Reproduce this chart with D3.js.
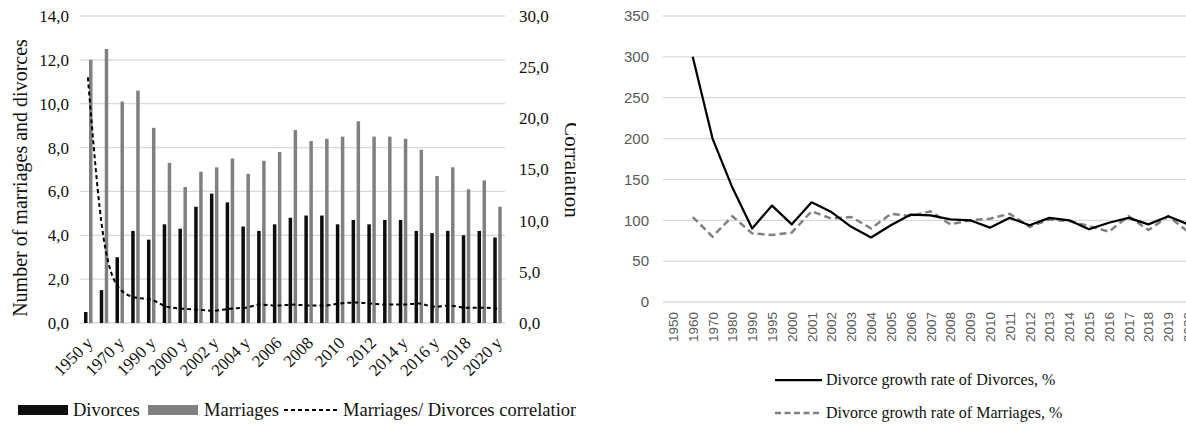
<!DOCTYPE html>
<html>
<head>
<meta charset="utf-8">
<script src="https://cdnjs.cloudflare.com/ajax/libs/d3/7.8.5/d3.min.js"></script>
<style>
  body { margin: 0; background: #fff; }
  svg { display: block; }
</style>
</head>
<body>
<svg class="chart" width="1186" height="425"></svg>
<script>
// categories (left chart labels carry the "y" suffix as in the source)
var yearLabels = ['1950 y', '1960 y', '1970 y', '1980 y', '1990 y', '1995 y', '2000 y', '2001 y',
    '2002 y', '2003 y', '2004 y', '2005', '2006', '2007', '2008', '2009', '2010', '2011', '2012',
    '2013', '2014 y', '2015 y', '2016 y', '2017', '2018', '2019', '2020 y'];
var years = ['1950', '1960', '1970', '1980', '1990', '1995', '2000', '2001', '2002', '2003', '2004',
    '2005', '2006', '2007', '2008', '2009', '2010', '2011', '2012', '2013', '2014', '2015', '2016',
    '2017', '2018', '2019', '2020'];

// left chart series
var divorces = [0.5, 1.5, 3.0, 4.2, 3.8, 4.5, 4.3, 5.3, 5.9, 5.5, 4.4, 4.2, 4.5, 4.8, 4.9, 4.9,
    4.5, 4.7, 4.5, 4.7, 4.7, 4.2, 4.1, 4.2, 4.0, 4.2, 3.9];
var marriages = [12.0, 12.5, 10.1, 10.6, 8.9, 7.3, 6.2, 6.9, 7.1, 7.5, 6.8, 7.4, 7.8, 8.8, 8.3, 8.4,
    8.5, 9.2, 8.5, 8.5, 8.4, 7.9, 6.7, 7.1, 6.1, 6.5, 5.3];
var correlation = [24.0, 8.3, 3.4, 2.5, 2.3, 1.6, 1.4, 1.3, 1.2, 1.4, 1.5, 1.8, 1.7, 1.8, 1.7, 1.7,
    1.9, 2.0, 1.9, 1.8, 1.8, 1.9, 1.6, 1.7, 1.5, 1.5, 1.4];

// right chart series
var divorceGrowth = [null, 300, 200, 140, 90, 118, 95, 122, 110, 92, 79, 94, 107, 106, 101, 100,
    91, 103, 94, 103, 100, 89, 97, 103, 95, 105, 95];
var marriageGrowth = [null, 104, 80, 105, 84, 82, 85, 111, 102, 104, 90, 108, 105, 111, 95, 100,
    102, 108, 92, 101, 99, 93, 86, 105, 88, 105, 86];

// tick labels
var leftTicks = [0, 2, 4, 6, 8, 10, 12, 14];
var rightTicks = [0, 5, 10, 15, 20, 25, 30];
var growthTicks = [0, 50, 100, 150, 200, 250, 300, 350];

var serif = '"Liberation Serif", "Times New Roman", serif';
var sans = '"Liberation Sans", Arial, sans-serif';
var gridColor = '#d9d9d9';
var comma = function (v) { return d3.format('.1f')(v).replace('.', ','); };

var svg = d3.select('.chart');

// ---------------- left chart ----------------
// the source picture is cut off a little right of the secondary axis title
svg.append('defs').append('clipPath').attr('id', 'leftClip')
    .append('rect').attr('x', 0).attr('y', 0).attr('width', 576).attr('height', 425);

var left = svg.append('g').attr('clip-path', 'url(#leftClip)');

var lp = { left: 80, right: 505, top: 16, bottom: 323 };

var x = d3.scaleBand().domain(yearLabels).range([lp.left, lp.right]);
var bw = x.bandwidth();
var xSub = d3.scaleBand().domain(['Divorces', 'Marriages'])
    .range([bw * 0.254, bw * 0.794]).paddingInner(0.3);
var y0 = d3.scaleLinear().domain([0, 14]).range([lp.bottom, lp.top]);
var y1 = d3.scaleLinear().domain([0, 30]).range([lp.bottom, lp.top]);

left.append('g').selectAll('line').data(leftTicks).enter().append('line')
    .attr('x1', lp.left).attr('x2', lp.right)
    .attr('y1', function (d) { return y0(d); }).attr('y2', function (d) { return y0(d); })
    .attr('stroke', gridColor).attr('stroke-width', 1.3);

left.append('g').selectAll('text').data(leftTicks).enter().append('text')
    .attr('x', 69).attr('y', function (d) { return y0(d); }).attr('dy', '0.35em')
    .attr('text-anchor', 'end').style('font-family', serif).style('font-size', '17px')
    .attr('fill', '#111').text(comma);

left.append('g').selectAll('text').data(rightTicks).enter().append('text')
    .attr('x', 519).attr('y', function (d) { return y1(d); }).attr('dy', '0.35em')
    .attr('text-anchor', 'start').style('font-family', serif).style('font-size', '17px')
    .attr('fill', '#111').text(comma);

var groups = left.append('g').selectAll('g').data(yearLabels).enter().append('g')
    .attr('transform', function (d) { return 'translate(' + x(d) + ',0)'; });

groups.append('rect')
    .attr('x', xSub('Divorces')).attr('width', xSub.bandwidth())
    .attr('y', function (d, i) { return y0(divorces[i]); })
    .attr('height', function (d, i) { return y0(0) - y0(divorces[i]); })
    .attr('fill', '#0d0d0d');

groups.append('rect')
    .attr('x', xSub('Marriages')).attr('width', xSub.bandwidth())
    .attr('y', function (d, i) { return y0(marriages[i]); })
    .attr('height', function (d, i) { return y0(0) - y0(marriages[i]); })
    .attr('fill', '#808080');

var corrLine = d3.line()
    .x(function (d, i) { return x(yearLabels[i]) + bw / 2; })
    .y(function (d) { return y1(d); })
    .curve(d3.curveMonotoneX);

left.append('path').datum(correlation).attr('d', corrLine)
    .attr('fill', 'none').attr('stroke', '#000').attr('stroke-width', 2)
    .attr('stroke-dasharray', '4,3');

left.append('g').selectAll('text')
    .data(yearLabels.filter(function (d, i) { return i % 2 === 0; }))
    .enter().append('text')
    .attr('transform', function (d) {
        return 'translate(' + (x(d) + bw / 2 + 6) + ',' + 344 + ') rotate(-45)';
    })
    .attr('text-anchor', 'end').style('font-family', serif).style('font-size', '17px')
    .attr('fill', '#111').text(function (d) { return d; });

left.append('text')
    .attr('transform', 'translate(27,178) rotate(-90)')
    .attr('text-anchor', 'middle').style('font-family', serif).style('font-size', '20px')
    .attr('fill', '#111').text('Number of marriages and divorces');

left.append('text')
    .attr('transform', 'translate(565,170) rotate(90)')
    .attr('text-anchor', 'middle').style('font-family', serif).style('font-size', '21px')
    .attr('fill', '#111').text('Corralation');

// left legend
var lg = left.append('g');
lg.append('rect').attr('x', 18).attr('y', 405).attr('width', 50).attr('height', 10).attr('fill', '#0d0d0d');
lg.append('text').attr('x', 73).attr('y', 416).style('font-family', serif).style('font-size', '18.5px')
    .attr('fill', '#111').text('Divorces');
lg.append('rect').attr('x', 148).attr('y', 405).attr('width', 50).attr('height', 10).attr('fill', '#808080');
lg.append('text').attr('x', 204).attr('y', 416).style('font-family', serif).style('font-size', '18.5px')
    .attr('fill', '#111').text('Marriages');
lg.append('line').attr('x1', 284).attr('x2', 339).attr('y1', 410).attr('y2', 410)
    .attr('stroke', '#000').attr('stroke-width', 2).attr('stroke-dasharray', '4,3');
lg.append('text').attr('x', 343).attr('y', 416).style('font-family', serif).style('font-size', '18.5px')
    .attr('fill', '#111').text('Marriages/ Divorces correlation');

// ---------------- right chart ----------------
var rp = { left: 663, right: 1198, top: 16, bottom: 302 };

var xr = d3.scaleBand().domain(years).range([rp.left, rp.right]);
var bwr = xr.bandwidth();
var yr = d3.scaleLinear().domain([0, 350]).range([rp.bottom, rp.top]);

var right = svg.append('g');

right.append('g').selectAll('line').data(growthTicks).enter().append('line')
    .attr('x1', rp.left).attr('x2', rp.right)
    .attr('y1', function (d) { return yr(d); }).attr('y2', function (d) { return yr(d); })
    .attr('stroke', gridColor).attr('stroke-width', 1.3);

right.append('g').selectAll('text').data(growthTicks).enter().append('text')
    .attr('x', 649).attr('y', function (d) { return yr(d); }).attr('dy', '0.35em')
    .attr('text-anchor', 'end').style('font-family', sans).style('font-size', '15px')
    .attr('fill', '#595959').text(function (d) { return d; });

right.append('g').selectAll('text').data(years).enter().append('text')
    .attr('transform', function (d) {
        return 'translate(' + (xr(d) + bwr / 2 + 5) + ',' + 312 + ') rotate(-90)';
    })
    .attr('text-anchor', 'end').style('font-family', sans).style('font-size', '13.5px')
    .attr('fill', '#595959').text(function (d) { return d; });

var growthLine = d3.line()
    .defined(function (d) { return d !== null; })
    .x(function (d, i) { return xr(years[i]) + bwr / 2; })
    .y(function (d) { return yr(d); });

right.append('path').datum(marriageGrowth).attr('d', growthLine)
    .attr('fill', 'none').attr('stroke', '#808080').attr('stroke-width', 2.5)
    .attr('stroke-dasharray', '7,4');

right.append('path').datum(divorceGrowth).attr('d', growthLine)
    .attr('fill', 'none').attr('stroke', '#000').attr('stroke-width', 2.25)
    .attr('stroke-linejoin', 'round');

// right legend
var rg = right.append('g');
rg.append('line').attr('x1', 775).attr('x2', 822).attr('y1', 380).attr('y2', 380)
    .attr('stroke', '#000').attr('stroke-width', 2.25);
rg.append('text').attr('x', 826).attr('y', 385).style('font-family', serif).style('font-size', '16px')
    .attr('fill', '#111').text('Divorce growth rate of Divorces, %');
rg.append('line').attr('x1', 775).attr('x2', 822).attr('y1', 413).attr('y2', 413)
    .attr('stroke', '#808080').attr('stroke-width', 2.5).attr('stroke-dasharray', '6,3.5');
rg.append('text').attr('x', 826).attr('y', 418).style('font-family', serif).style('font-size', '16px')
    .attr('fill', '#111').text('Divorce growth rate of Marriages, %');
</script>
</body>
</html>
